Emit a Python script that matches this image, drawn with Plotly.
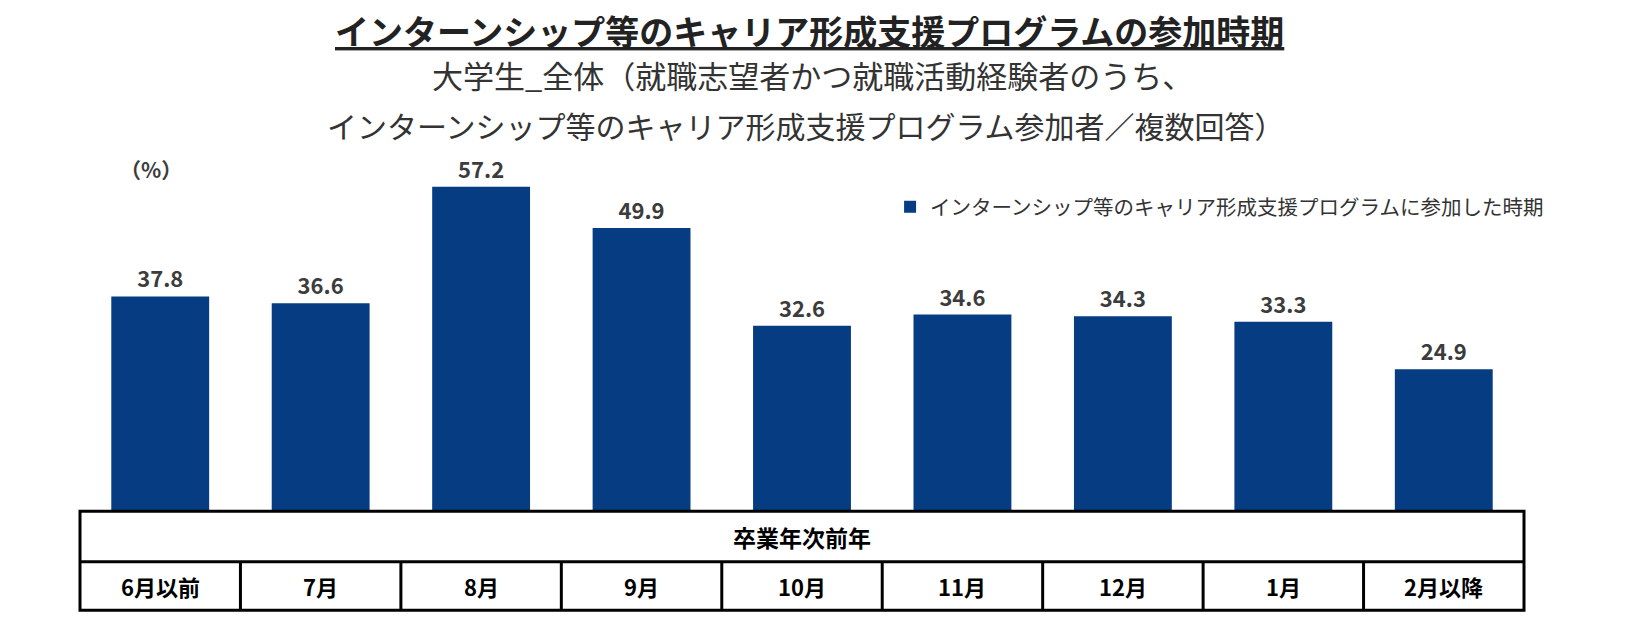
import plotly.graph_objects as go

# ---------- DATA ----------
months = ["6月以前", "7月", "8月", "9月", "10月", "11月", "12月", "1月", "2月以降"]
values = [37.8, 36.6, 57.2, 49.9, 32.6, 34.6, 34.3, 33.3, 24.9]

series_name = "インターンシップ等のキャリア形成支援プログラムに参加した時期"
title_text = "インターンシップ等のキャリア形成支援プログラムの参加時期"
sub_line1 = "大学生_全体（就職志望者かつ就職活動経験者のうち、"
sub_line2 = "インターンシップ等のキャリア形成支援プログラム参加者／複数回答）"
table_header = "卒業年次前年"

FONT = "Noto Sans CJK JP"
BAR_COLOR = "#053C82"
TEXT_COLOR = "#3c3c3c"

# ---------- FIGURE ----------
# page body has an 8px margin, so the figure is 16px smaller than the window
fig = go.Figure()

fig.add_trace(go.Bar(
    x=months,
    y=values,
    name=series_name,
    marker=dict(color=BAR_COLOR, line=dict(width=0)),
    width=0.61,
    text=[f"{v:.1f}" for v in values],
    textposition="outside",
    cliponaxis=False,
    textfont=dict(family=FONT, size=22, color=TEXT_COLOR, weight="bold"),
    showlegend=True,
))

fig.update_layout(
    width=1614,
    height=604,
    margin=dict(l=72, r=98, t=163, b=102, autoexpand=False),
    plot_bgcolor="white",
    paper_bgcolor="white",
    font=dict(family=FONT, color=TEXT_COLOR),
    showlegend=True,
    legend=dict(
        x=0.561, y=0.894, xanchor="left", yanchor="middle",
        font=dict(family=FONT, size=20.5, color="#333333"),
        bgcolor="rgba(0,0,0,0)",
        itemwidth=30,
    ),
    xaxis=dict(showticklabels=False, showgrid=False, zeroline=False,
               showline=False, ticks="", range=[-0.5, len(months) - 0.5]),
    yaxis=dict(showticklabels=False, showgrid=False, zeroline=False,
               showline=False, ticks="", range=[0, 60]),
)

# ---------- TITLES ----------
fig.add_annotation(
    text=title_text, xref="paper", yref="paper", x=0.505, y=1.0,
    yshift=141, yanchor="middle", showarrow=False,
    font=dict(family=FONT, size=34, color="#222222", weight="bold",
              lineposition="under"),
)
fig.add_annotation(
    text=sub_line1, xref="paper", yref="paper", x=0.507, y=1.0,
    yshift=97, yanchor="middle", showarrow=False,
    font=dict(family=FONT, size=31, color="#333333"),
)
fig.add_annotation(
    text=sub_line2, xref="paper", yref="paper", x=0.503, y=1.0,
    yshift=46, yanchor="middle", showarrow=False,
    font=dict(family=FONT, size=30, color="#333333"),
)
fig.add_annotation(
    text="（%）", xref="paper", yref="paper", x=0.026, y=1.0,
    yshift=2, yanchor="middle", showarrow=False,
    font=dict(family=FONT, size=21, color=TEXT_COLOR, weight="bold"),
)

# ---------- TABLE UNDER BARS ----------
row_top = -0.004
row_mid = -0.153
row_bot = -0.296
line = dict(color="black", width=3)

fig.add_shape(type="rect", xref="paper", yref="paper",
              x0=0, x1=1, y0=row_bot, y1=row_top, line=line)
fig.add_shape(type="line", xref="paper", yref="paper",
              x0=0, x1=1, y0=row_mid, y1=row_mid, line=line)
for i in range(len(months) - 1):
    fig.add_shape(type="line", xref="x", yref="paper",
                  x0=i + 0.5, x1=i + 0.5, y0=row_bot, y1=row_mid, line=line)

fig.add_annotation(
    text=table_header, xref="paper", yref="paper", x=0.5,
    y=(row_top + row_mid) / 2, yanchor="middle", showarrow=False,
    font=dict(family=FONT, size=23, color="black", weight="bold"),
)
for m in months:
    fig.add_annotation(
        text=m, xref="x", yref="paper", x=m,
        y=(row_mid + row_bot) / 2, yanchor="middle", showarrow=False,
        font=dict(family=FONT, size=22, color="black", weight="bold"),
    )

fig.write_html("out.html")
